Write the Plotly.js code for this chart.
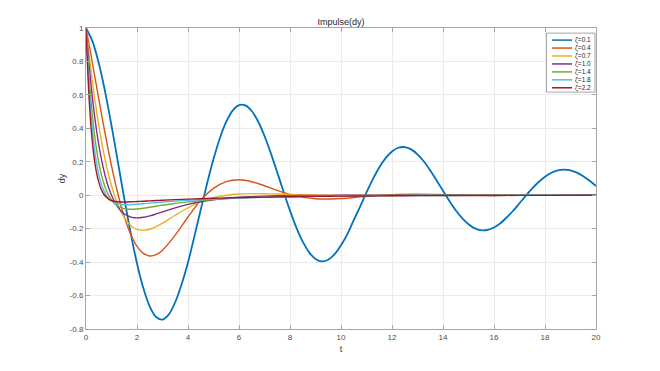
<!DOCTYPE html>
<html>
<head>
<meta charset="utf-8">
<script src="https://cdn.plot.ly/plotly-3.0.1.min.js"></script>
<style>html,body{margin:0;padding:0;background:#fff;}#chart{width:660px;height:371px;}</style>
</head>
<body>
<div id="chart"></div>
<script>
// time grids
const tA = [0,0.25,0.5,0.75,1,1.25,1.5,1.75,2,2.25,2.5,2.75,3,3.25,3.5,3.75,4,4.25,4.5,4.75,5,5.25,5.5,5.75,6,6.25,6.5,6.75,7,7.25,7.5,7.75,8,8.25,8.5,8.75,9,9.25,9.5,9.75,10,10.25,10.5,10.75,11,11.25,11.5,11.75,12,12.25,12.5,12.75,13,13.25,13.5,13.75,14,14.25,14.5,14.75,15,15.25,15.5,15.75,16,16.25,16.5,16.75,17,17.25,17.5,17.75,18,18.25,18.5,18.75,19,19.25,19.5,19.75,20];
const tB = [0,0.1,0.2,0.3,0.4,0.5,0.6,0.7,0.8,0.9,1.0,1.2,1.4,1.6,1.8,2.0,2.25,2.5,2.75,3.0,3.5,4,4.5,5,5.5,6,6.5,7,7.5,8,9,10,11,12,13,14,15,16,18,20];

// dy values read for each damping ratio
const dy01 = [1,0.9212,0.7903,0.6179,0.4164,0.1994,-0.0188,-0.2256,-0.4081,-0.5569,-0.6656,-0.7286,-0.7434,-0.7128,-0.6386,-0.5319,-0.4019,-0.2462,-0.0861,0.0711,0.2163,0.3412,0.4395,0.5063,0.5391,0.5376,0.5036,0.4407,0.3542,0.2503,0.1365,0.0198,-0.0923,-0.1935,-0.2779,-0.3417,-0.3807,-0.3957,-0.3855,-0.3529,-0.2993,-0.2322,-0.1493,-0.0680,0.0165,0.0959,0.1656,0.2217,0.2617,0.2839,0.2878,0.2741,0.2444,0.2013,0.1481,0.0885,0.0265,-0.0341,-0.0897,-0.1372,-0.1734,-0.1986,-0.2098,-0.2076,-0.1929,-0.1677,-0.1325,-0.0929,-0.0480,-0.0028,0.0404,0.0791,0.1109,0.1346,0.1488,0.1535,0.1485,0.1348,0.1136,0.0865,0.0555];
const dy04 = [1,0.9184,0.8342,0.7485,0.6622,0.5762,0.4913,0.4081,0.3274,0.2497,0.1756,0.0400,-0.0771,-0.1739,-0.2502,-0.3060,-0.3481,-0.3634,-0.3554,-0.3285,-0.2390,-0.1303,-0.0301,0.0410,0.0814,0.0922,0.0807,0.0568,0.0293,0.0049,-0.0215,-0.0198,-0.0064,0.0036,0.0058,0.0031,-0.0001,-0.0015,-0.0003,0.0004];
const dy07 = [1,0.8648,0.7392,0.6231,0.5164,0.4188,0.3301,0.2498,0.1778,0.1135,0.0564,-0.0372,-0.1067,-0.1553,-0.1869,-0.2043,-0.2102,-0.2034,-0.1879,-0.1672,-0.1197,-0.0749,-0.0397,-0.0152,-0.0004,0.0071,0.0096,0.0091,0.0073,0.0051,0.0016,-0.0001,-0.0004,-0.0003,-0.0001,0,0,0,0,0];
const dy10 = [1,0.8144,0.6550,0.5186,0.4022,0.3033,0.2195,0.1490,0.0899,0.0407,0,-0.0602,-0.0986,-0.1211,-0.1322,-0.1353,-0.1318,-0.1231,-0.1119,-0.0996,-0.0755,-0.0549,-0.0389,-0.0270,-0.0184,-0.0124,-0.0083,-0.0055,-0.0036,-0.0023,-0.0010,-0.0004,-0.0002,-0.0001,0,0,0,0,0,0];
const dy14 = [1,0.7516,0.5574,0.4057,0.2875,0.1957,0.1246,0.0698,0.0277,-0.0043,-0.0284,-0.0597,-0.0757,-0.0825,-0.0839,-0.0821,-0.0776,-0.0718,-0.0658,-0.0598,-0.0490,-0.0398,-0.0323,-0.0262,-0.0213,-0.0172,-0.0140,-0.0113,-0.0092,-0.0074,-0.0049,-0.0032,-0.0021,-0.0014,-0.0009,-0.0006,-0.0004,-0.0003,-0.0001,0];
const dy18 = [1,0.6938,0.4743,0.3172,0.2049,0.1248,0.0679,0.0276,-0.0007,-0.0204,-0.0341,-0.0493,-0.0554,-0.0567,-0.0558,-0.0537,-0.0506,-0.0472,-0.0439,-0.0408,-0.0350,-0.0301,-0.0259,-0.0222,-0.0191,-0.0164,-0.0141,-0.0121,-0.0104,-0.0090,-0.0066,-0.0049,-0.0036,-0.0027,-0.0020,-0.0015,-0.0011,-0.0008,-0.0004,-0.0002];
const dy22 = [1,0.6403,0.4035,0.2477,0.1453,0.0782,0.0344,0.0059,-0.0125,-0.0243,-0.0317,-0.0388,-0.0407,-0.0404,-0.0392,-0.0377,-0.0356,-0.0336,-0.0317,-0.0298,-0.0264,-0.0234,-0.0208,-0.0184,-0.0163,-0.0145,-0.0129,-0.0114,-0.0101,-0.0090,-0.0070,-0.0055,-0.0044,-0.0034,-0.0027,-0.0021,-0.0017,-0.0013,-0.0008,-0.0005];

const names = ['ζ=0.1','ζ=0.4','ζ=0.7','ζ=1.0','ζ=1.4','ζ=1.8','ζ=2.2'];
const xs = [tA,tB,tB,tB,tB,tB,tB];
const ys = [dy01,dy04,dy07,dy10,dy14,dy18,dy22];
const colors = ['#0072BD','#D95319','#EDB120','#7E2F8E','#77AC30','#4DBEEE','#A2142F'];
const widths = [1.8,1.4,1.4,1.4,1.4,1.4,1.4];

const traces = names.map((n,i)=>({
  x: xs[i], y: ys[i], name: n, type:'scatter', mode:'lines', showlegend:false,
  line:{color:colors[i], width:widths[i], shape:'spline', smoothing:0.8}
}));

// compact MATLAB-style legend drawn in paper coordinates
const lg = {x0:0.903, x1:0.998, y0:0.787, y1:0.983, lineX0:0.9137, lineX1:0.953, textX:0.955, rowTop:0.9598, rowStep:0.0264};
const shapes = [{type:'rect', xref:'paper', yref:'paper', x0:lg.x0, x1:lg.x1, y0:lg.y0, y1:lg.y1,
  fillcolor:'#ffffff', line:{color:'#a6a6a6', width:1}, layer:'above'}];
const annotations = [];
names.forEach((n,i)=>{
  const yy = lg.rowTop - i*lg.rowStep;
  shapes.push({type:'line', xref:'paper', yref:'paper', x0:lg.lineX0, x1:lg.lineX1, y0:yy, y1:yy,
    line:{color:colors[i], width:1.5}, layer:'above'});
  annotations.push({xref:'paper', yref:'paper', x:lg.textX, y:yy, xanchor:'left', yanchor:'middle',
    text:n, showarrow:false, font:{size:6.5, color:'#262626'}});
});

const axisCommon = {
  showline:true, mirror:'ticks', linecolor:'#a6a6a6', linewidth:1,
  ticks:'inside', ticklen:4, tickcolor:'#a6a6a6',
  showgrid:true, gridcolor:'#ebebeb', gridwidth:1, zeroline:false,
  tickfont:{family:'Liberation Sans, Arial, sans-serif', size:8, color:'#4d4d4d'}
};

const layout = {
  width:660, height:371,
  margin:{l:86, r:64, t:28, b:42},
  paper_bgcolor:'#fff', plot_bgcolor:'#fff',
  font:{family:'Liberation Sans, Arial, sans-serif', color:'#262626'},
  title:{text:'Impulse(dy)', font:{size:9, color:'#262626'}, x:0.5, xref:'paper', xanchor:'center', y:0.94, yref:'container', yanchor:'middle'},
  xaxis:Object.assign({}, axisCommon, {range:[0,20], tickvals:[0,2,4,6,8,10,12,14,16,18,20],
    title:{text:'t', font:{size:9, color:'#404040'}, standoff:5}}),
  yaxis:Object.assign({}, axisCommon, {range:[-0.8,1], tickvals:[-0.8,-0.6,-0.4,-0.2,0,0.2,0.4,0.6,0.8,1],
    ticktext:['-0.8','-0.6','-0.4','-0.2','0','0.2','0.4','0.6','0.8','1'],
    title:{text:'dy', font:{size:9, color:'#404040'}, standoff:2}}),
  showlegend:false,
  shapes: shapes,
  annotations: annotations
};

Plotly.newPlot('chart', traces, layout, {displayModeBar:false, staticPlot:true});
</script>
</body>
</html>
